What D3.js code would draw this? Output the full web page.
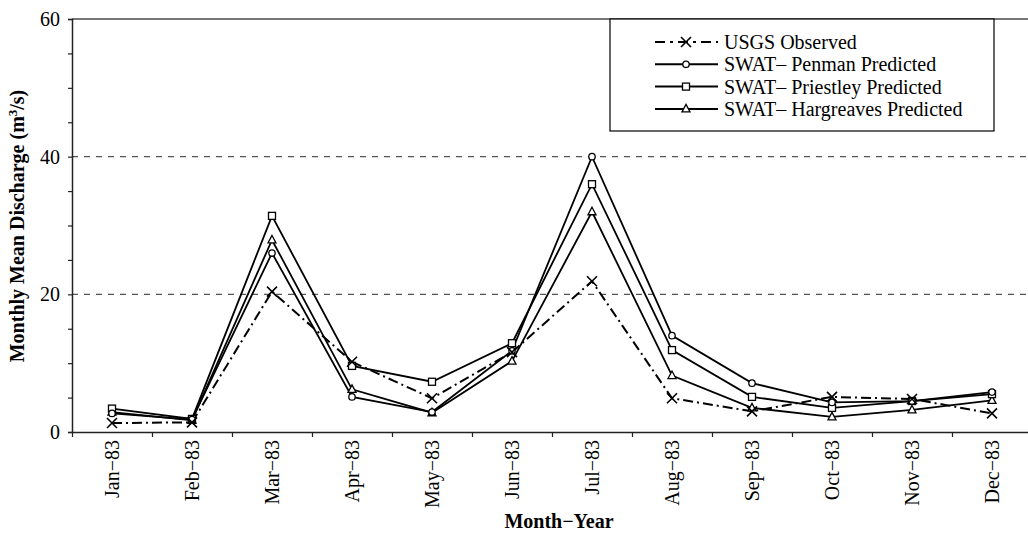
<!DOCTYPE html>
<html>
<head>
<meta charset="utf-8">
<script src="https://cdn.jsdelivr.net/npm/d3@7"></script>
<style>
  html, body { margin: 0; padding: 0; background: #fff; }
  svg { display: block; }
  text { font-family: "Liberation Serif", "Times New Roman", serif; fill: #000; }
</style>
</head>
<body>
<svg id="chart" width="1028" height="535"></svg>
<script>
// Monthly mean discharge, 1983
const months = ["Jan\u221283", "Feb\u221283", "Mar\u221283", "Apr\u221283", "May\u221283", "Jun\u221283",
                "Jul\u221283", "Aug\u221283", "Sep\u221283", "Oct\u221283", "Nov\u221283", "Dec\u221283"];
const usgsObserved       = [1.3, 1.4, 20.4, 10.2, 4.9, 11.6, 21.9, 4.9, 3.0, 5.1, 4.8, 2.7];
const penmanPredicted    = [2.7, 1.8, 26.0, 5.1, 2.9, 11.8, 40.0, 14.0, 7.1, 4.3, 4.5, 5.8];
const priestleyPredicted = [3.4, 1.9, 31.4, 9.6, 7.3, 12.9, 36.0, 11.9, 5.1, 3.5, 4.5, 5.5];
const hargreavesPredicted= [2.9, 1.7, 27.9, 6.2, 2.8, 10.3, 32.0, 8.2, 3.5, 2.2, 3.2, 4.6];
const yTickLabels = [0, 20, 40, 60];
const seriesNames = ["USGS Observed", "SWAT\u2013 Penman Predicted", "SWAT\u2013 Priestley Predicted", "SWAT\u2013 Hargreaves Predicted"];

const series = [
  { name: seriesNames[0], values: usgsObserved,        marker: "cross",    dash: "10,4,2,4" },
  { name: seriesNames[1], values: penmanPredicted,     marker: "circle",   dash: null },
  { name: seriesNames[2], values: priestleyPredicted,  marker: "square",   dash: null },
  { name: seriesNames[3], values: hargreavesPredicted, marker: "triangle", dash: null }
];

const svg = d3.select("#chart");
const plotLeft = 72, plotTop = 19, plotBottom = 432, plotRight = 1032;

const x = d3.scaleBand().domain(months).range([plotLeft, plotRight]).padding(0);
const y = d3.scaleLinear().domain([0, 60]).range([plotBottom, plotTop]);
const xc = d => x(d) + x.bandwidth() / 2;

// Horizontal reference lines
svg.append("g").selectAll("line")
  .data([20, 40])
  .join("line")
  .attr("x1", plotLeft).attr("x2", 1028)
  .attr("y1", d => y(d)).attr("y2", d => y(d))
  .attr("stroke", "#555").attr("stroke-width", 1.3)
  .attr("stroke-dasharray", "6,6");
svg.append("line")
  .attr("x1", plotLeft).attr("x2", 1028)
  .attr("y1", y(60)).attr("y2", y(60))
  .attr("stroke", "#777").attr("stroke-width", 1.8);

// Y axis: minor ticks every 5, labels every 20
const yAxis = d3.axisLeft(y)
  .tickValues(d3.range(0, 61, 5))
  .tickSize(4)
  .tickPadding(8)
  .tickFormat(d => yTickLabels.includes(d) ? d : "");
const yg = svg.append("g").attr("transform", `translate(${plotLeft},0)`).call(yAxis);
yg.select(".domain").attr("stroke", "#222").attr("stroke-width", 1.5);
yg.selectAll(".tick line").attr("stroke", "#222").attr("stroke-width", 1.2);
yg.selectAll(".tick text").style("font-family", '"Liberation Serif", serif').style("font-size", "20px").attr("fill", "#000");

// X axis: boundary ticks between months
const xb = d3.scaleLinear().domain([0, 12]).range([plotLeft, plotRight]);
const xg = svg.append("g").attr("transform", `translate(0,${plotBottom})`)
  .call(d3.axisBottom(xb).tickValues(d3.range(0, 13)).tickSize(5).tickSizeOuter(0).tickFormat(""));
xg.select(".domain").attr("stroke", "#222").attr("stroke-width", 1.5);
xg.selectAll(".tick line").attr("stroke", "#222").attr("stroke-width", 1.2);

// Month labels, rotated
svg.append("g").selectAll("text")
  .data(months)
  .join("text")
  .attr("transform", d => `translate(${xc(d)},${plotBottom + 8}) rotate(-90)`)
  .attr("text-anchor", "end")
  .attr("dy", "0.35em")
  .style("font-size", "20px")
  .text(d => d);

// Axis titles
svg.append("text")
  .attr("x", 559).attr("y", 528)
  .attr("text-anchor", "middle")
  .style("font-size", "20px").style("font-weight", "bold")
  .text("Month\u2212Year");

const yt = svg.append("text")
  .attr("transform", "translate(24,226) rotate(-90)")
  .attr("text-anchor", "middle")
  .style("font-size", "20px").style("font-weight", "bold");
yt.append("tspan").text("Monthly Mean Discharge (m");
yt.append("tspan").attr("baseline-shift", "super").style("font-size", "13px").text("3");
yt.append("tspan").text("/s)");

// Marker drawing
function drawMarker(g, type, cx, cy) {
  if (type === "cross") {
    const s = 5;
    g.append("path")
      .attr("d", `M${cx - s},${cy - s}L${cx + s},${cy + s}M${cx - s},${cy + s}L${cx + s},${cy - s}`)
      .attr("stroke", "#000").attr("stroke-width", 1.6).attr("fill", "none");
  } else if (type === "circle") {
    g.append("circle").attr("cx", cx).attr("cy", cy).attr("r", 3.2)
      .attr("fill", "#fff").attr("stroke", "#000").attr("stroke-width", 1.3);
  } else if (type === "square") {
    g.append("rect").attr("x", cx - 3.5).attr("y", cy - 3.5).attr("width", 7).attr("height", 7)
      .attr("fill", "#fff").attr("stroke", "#000").attr("stroke-width", 1.3);
  } else if (type === "triangle") {
    g.append("path")
      .attr("d", `M${cx},${cy - 4.5}L${cx + 4},${cy + 3}L${cx - 4},${cy + 3}Z`)
      .attr("fill", "#fff").attr("stroke", "#000").attr("stroke-width", 1.3);
  }
}

const line = d3.line().x((d, i) => xc(months[i])).y(d => y(d));

// Series lines then markers
series.forEach(s => {
  const p = svg.append("path")
    .datum(s.values)
    .attr("d", line)
    .attr("fill", "none")
    .attr("stroke", "#000")
    .attr("stroke-width", s.dash ? 2 : 1.8);
  if (s.dash) p.attr("stroke-dasharray", s.dash);
});
series.slice().reverse().forEach(s => {
  const g = svg.append("g");
  s.values.forEach((v, i) => drawMarker(g, s.marker, xc(months[i]), y(v)));
});

// Legend
const lg = svg.append("g");
lg.append("rect")
  .attr("x", 610).attr("y", 19).attr("width", 384).attr("height", 112)
  .attr("fill", "#fff").attr("stroke", "#000").attr("stroke-width", 1.2);
series.forEach((s, i) => {
  const ly = 42 + i * 22.3;
  const l = lg.append("line")
    .attr("x1", 655).attr("x2", 718).attr("y1", ly).attr("y2", ly)
    .attr("stroke", "#000").attr("stroke-width", 2);
  if (s.dash) l.attr("stroke-dasharray", "10,5,3,5");
  drawMarker(lg, s.marker, 686, ly);
  lg.append("text")
    .attr("x", 724).attr("y", ly).attr("dy", "0.35em")
    .style("font-size", "20px")
    .text(s.name);
});
</script>
</body>
</html>
